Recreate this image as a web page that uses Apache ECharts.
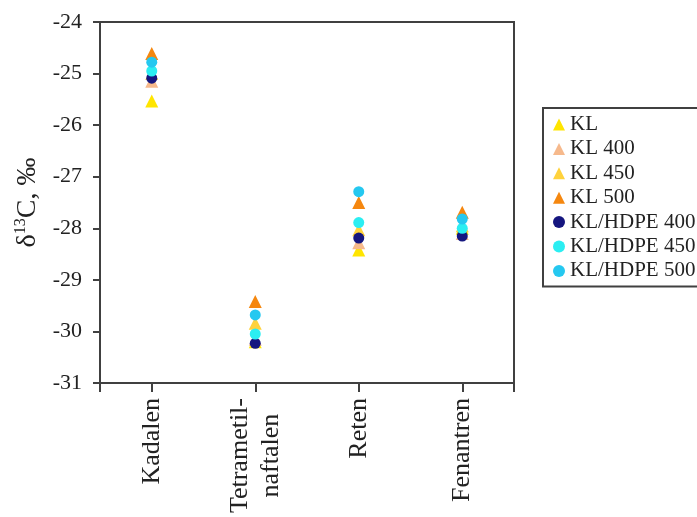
<!DOCTYPE html>
<html>
<head>
<meta charset="utf-8">
<script src="https://cdn.jsdelivr.net/npm/echarts@6/dist/echarts.min.js"></script>
<style>
  html, body { margin: 0; padding: 0; background: #fff; }
  #chart { width: 697px; height: 517px; }
</style>
</head>
<body>
<div id="chart"></div>
<script>
// Compounds along the x axis
const categories = ['Kadalen', 'Tetrametil-\nnaftalen', 'Reten', 'Fenantren'];

// δ13C values (‰) per sample, one value per compound
const seriesNames = ['KL', 'KL 400', 'KL 450', 'KL 500', 'KL/HDPE 400', 'KL/HDPE 450', 'KL/HDPE 500'];
const kl        = [-25.53, -30.20, -28.42, -28.00];
const kl400     = [-25.15, -30.15, -28.28, -28.10];
const kl450     = [-25.00, -29.84, -28.03, -27.95];
const kl500     = [-24.61, -29.42, -27.50, -27.69];
const hdpe400   = [-25.09, -30.23, -28.19, -28.15];
const hdpe450   = [-24.95, -30.05, -27.89, -28.00];
const hdpe500   = [-24.78, -29.68, -27.29, -27.82];

// y axis ticks
const yTicks = [-31, -30, -29, -28, -27, -26, -25, -24];

const values = [kl, kl400, kl450, kl500, hdpe400, hdpe450, hdpe500];
const colors = ['#FFE500', '#F6B98C', '#FFD23C', '#F5870F', '#15167F', '#2BEEF2', '#25C8F0'];
const shapes = ['triangle', 'triangle', 'triangle', 'triangle', 'circle', 'circle', 'circle'];

const serif = "'Liberation Serif', 'Times New Roman', serif";
const axisColor = '#404040';

const series = seriesNames.map((name, i) => ({
  name: name,
  type: 'scatter',
  symbol: shapes[i],
  symbolSize: shapes[i] === 'triangle' ? 13 : 11,
  itemStyle: { color: colors[i], opacity: 1 },
  data: values[i].map((v, j) => [j + 1, v])
}));

const chart = echarts.init(document.getElementById('chart'));
chart.setOption({
  animation: false,
  grid: {
    left: 100, top: 22, width: 414, height: 361,
    show: true, borderColor: axisColor, borderWidth: 2
  },
  legend: {
    orient: 'vertical',
    left: 543, top: 108,
    width: 152,
    padding: [6, 40, 5, 10],
    itemGap: 3.4,
    itemWidth: 12, itemHeight: 12,
    borderColor: axisColor, borderWidth: 2,
    textStyle: { fontFamily: serif, fontSize: 21, lineHeight: 20, color: '#222' },
    data: seriesNames
  },
  xAxis: {
    type: 'value',
    min: 0.5, max: 4.5,
    splitLine: { show: false },
    axisLine: { lineStyle: { color: axisColor, width: 2 } },
    axisTick: {
      customValues: [0.5, 1, 2, 3, 4, 4.5],
      length: 9,
      lineStyle: { color: axisColor, width: 2 }
    },
    axisLabel: {
      customValues: [1, 2, 3, 4],
      rotate: 90,
      margin: 15,
      fontFamily: serif,
      fontSize: 26,
      color: '#222',
      formatter: function (v) {
        const label = categories[Math.round(v) - 1];
        return label.split('\n').map(s => '{c|' + s + '}').join('\n');
      },
      rich: {
        c: { align: 'center', fontFamily: serif, fontSize: 26, color: '#222', lineHeight: 31 }
      }
    }
  },
  yAxis: {
    type: 'value',
    min: -31, max: -24, interval: 1,
    splitLine: { show: false },
    axisLine: { lineStyle: { color: axisColor, width: 2 } },
    axisTick: { length: 7, lineStyle: { color: axisColor, width: 2 } },
    axisLabel: {
      margin: 18,
      fontFamily: serif,
      fontSize: 22,
      color: '#222',
      customValues: yTicks
    },
    name: '{d|δ}{s|13}{d|C, ‰}',
    nameLocation: 'middle',
    nameGap: 50,
    nameTextStyle: {
      rich: {
        d: { fontFamily: serif, fontSize: 28, color: '#222' },
        s: { fontFamily: serif, fontSize: 16, color: '#222', padding: [0, 0, 14, 0] }
      }
    }
  },
  series: series
});
</script>
</body>
</html>
